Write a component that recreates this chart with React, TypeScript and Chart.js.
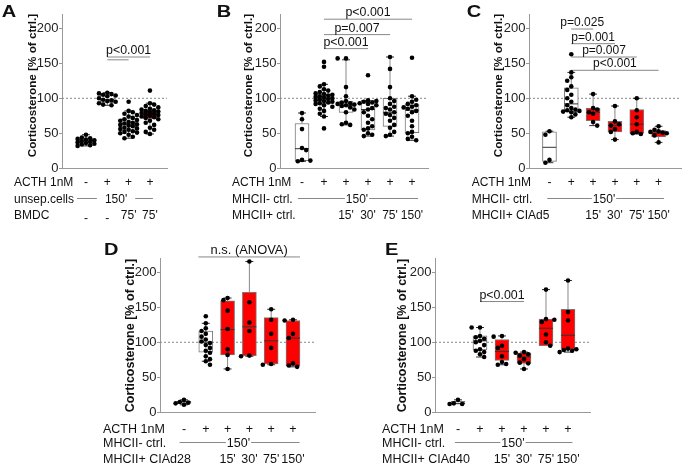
import React, { useEffect, useRef } from 'react';
import { Chart, registerables } from 'chart.js';

Chart.register(...registerables);

const FONT = '"Liberation Sans", Arial, Helvetica, sans-serif';
const RED = '#ff0000';
const Y_MAX = 220;
const Y_TITLE = 'Corticosterone [% of ctrl.]';

// ---------------- Panel A ----------------
const A_VALUES: number[][] = [
  [48, 44, 43, 42, 41, 40, 39, 38, 37, 36, 35, 34, 33, 32],
  [108, 107, 106, 105, 104, 103, 100, 98, 97, 96, 95, 93, 91, 90],
  [95, 82, 80, 78, 76, 74, 72, 70, 69, 68, 66, 65, 64, 63, 62, 61, 60, 58, 57, 56, 55, 53, 52, 51, 50, 48, 45, 43],
  [111, 93, 91, 89, 87, 85, 84, 83, 82, 81, 80, 79, 78, 77, 76, 75, 74, 73, 72, 70, 68, 65, 62, 58, 55, 52, 49],
];
const A_BOXES: number[][] = [
  [32, 36, 39, 42, 48],
  [90, 94, 98, 105, 108],
  [43, 54, 63, 71, 82],
  [49, 71, 77, 83, 93],
];
const A_RED = [false, false, false, true];
const A_ROW_LABELS = ['ACTH 1nM', 'unsep.cells', 'BMDC'];
const A_ACTH = ['-', '+', '+', '+'];
const A_ROW3 = ['-', '-', "75'", "75'"];
const A_SIG_LINES: number[][] = [[1, 3, 159], [1, 2, 155]];
const A_SIG_TEXT = ['p<0.001', ''];

// ---------------- Panel B ----------------
const B_VALUES: number[][] = [
  [79, 70, 56, 29, 26, 12, 11, 10],
  [152, 145, 120, 117, 113, 111, 109, 107, 106, 105, 104, 103, 102, 101, 100, 99, 98, 97, 96, 95, 94, 93, 92, 90, 88, 85, 82, 78, 74, 57],
  [157, 157, 116, 103, 96, 94, 93, 92, 91, 90, 89, 87, 84, 80, 65, 63, 62],
  [133, 97, 96, 95, 94, 93, 92, 90, 86, 84, 80, 75, 70, 65, 60, 57, 55, 50, 48, 46],
  [159, 142, 116, 100, 96, 92, 88, 86, 84, 80, 78, 76, 72, 68, 62, 58, 52, 48, 46],
  [158, 103, 98, 95, 92, 90, 88, 87, 85, 82, 80, 75, 68, 60, 52, 50, 45, 42, 40],
];
const B_BOXES: number[][] = [
  [10, 11, 28, 64, 79],
  [74, 92, 100, 106, 120],
  [62, 80, 90, 96, 155],
  [46, 55, 84, 97, 97],
  [46, 60, 80, 100, 159],
  [40, 51, 83, 92, 103],
];
const B_RED = [false, false, false, false, false, false];
const B_ROW_LABELS = ['ACTH 1nM', 'MHCII- ctrl.', 'MHCII+ ctrl.'];
const B_ACTH = ['-', '+', '+', '+', '+', '+'];
const B_ROW3 = ['', '', "15'", "30'", "75'", "150'"];
const B_SIG_LINES: number[][] = [[1, 5, 213], [1, 4, 191], [1, 3, 171]];
const B_SIG_TEXT = ['p<0.001', 'p=0.007', 'p<0.001'];

// ---------------- Panel C ----------------
const C_VALUES: number[][] = [
  [53, 48, 12, 8],
  [163, 137, 130, 125, 117, 112, 105, 100, 95, 90, 86, 84, 83, 82, 81, 80, 77, 73],
  [106, 86, 84, 80, 78, 66, 61],
  [89, 67, 63, 61, 56, 52, 41],
  [100, 83, 73, 63, 52, 50, 49],
  [60, 55, 53, 52, 51, 50, 47, 37],
];
const C_BOXES: number[][] = [
  [8, 10, 30, 52, 53],
  [73, 81, 92, 115, 137],
  [61, 68, 80, 86, 106],
  [41, 52, 61, 67, 89],
  [49, 50, 63, 84, 100],
  [37, 45, 50, 54, 60],
];
const C_RED = [false, false, true, true, true, true];
const C_ROW_LABELS = ['ACTH 1nM', 'MHCII- ctrl.', 'MHCII+ CIAd5'];
const C_ACTH = ['-', '+', '+', '+', '+', '+'];
const C_ROW3 = ['', '', "15'", "30'", "75'", "150'"];
const C_SIG_LINES: number[][] = [[1, 2, 199], [1, 3, 178], [1, 4, 159], [1, 5, 140]];
const C_SIG_TEXT = ['p=0.025', 'p=0.001', 'p=0.007', 'p<0.001'];

// ---------------- Panel D ----------------
const D_VALUES: number[][] = [
  [18, 15, 14, 13, 11],
  [137, 127, 120, 116, 112, 108, 104, 101, 99, 96, 92, 88, 85, 80, 76, 73, 68],
  [163, 160, 145, 119, 90, 82, 62],
  [215, 157, 128, 116, 81, 80],
  [147, 132, 112, 92, 69, 68],
  [132, 131, 112, 106, 70, 67, 65],
];
const D_BOXES: number[][] = [
  [11, 13, 15, 16, 18],
  [73, 86, 100, 116, 127],
  [62, 82, 118, 159, 163],
  [80, 81, 122, 171, 215],
  [68, 69, 102, 135, 147],
  [65, 66, 106, 131, 132],
];
const D_RED = [false, false, true, true, true, true];
const D_ROW_LABELS = ['ACTH 1nM', 'MHCII- ctrl.', 'MHCII+ CIAd28'];
const D_ACTH = ['-', '+', '+', '+', '+', '+'];
const D_ROW3 = ['', '', "15'", "30'", "75'", "150'"];
const D_SIG_LINES: number[][] = [[0.66, 5.32, 221.5]];
const D_SIG_TEXT = ['n.s. (ANOVA)'];

// ---------------- Panel E ----------------
const E_VALUES: number[][] = [
  [18, 13, 12, 12],
  [121, 121, 109, 107, 105, 102, 100, 96, 90, 88, 86, 83, 79],
  [109, 108, 95, 92, 80, 72, 69, 68],
  [86, 85, 83, 81, 76, 71, 70, 62],
  [175, 133, 132, 129, 111, 100, 95],
  [188, 143, 131, 91, 90, 89, 88, 86],
];
const E_BOXES: number[][] = [
  [12, 12, 13, 16, 18],
  [79, 89, 102, 109, 121],
  [68, 74, 87, 104, 109],
  [62, 70, 79, 85, 86],
  [95, 95, 120, 133, 175],
  [86, 90, 110, 147, 188],
];
const E_RED = [false, false, true, true, true, true];
const E_ROW_LABELS = ['ACTH 1nM', 'MHCII- ctrl.', 'MHCII+ CIAd40'];
const E_ACTH = ['-', '+', '+', '+', '+', '+'];
const E_ROW3 = ['', '', "15'", "30'", "75'", "150'"];
const E_SIG_LINES: number[][] = [[1, 3, 158]];
const E_SIG_TEXT = ['p<0.001'];

const SPAN_TEXT = "150'";

type Panel = {
  letter: string;
  values: number[][];
  boxes: number[][];
  red: boolean[];
  rowLabels: string[];
  acth: string[];
  row3: string[];
  sigLines: number[][];
  sigText: string[];
  canvas: { left: number; top: number; width: number; height: number };
  area: { l: number; r: number; t: number; b: number };
  xMin: number;
  xMax: number;
  letterPos: [number, number];
  title: [number, number, number];
  rowX: number;
  rowY: number[];
  rowSize: number;
  span: [number, number, number, number];
  tickSize: number;
  sigSize: number;
  lowDash: boolean;
};

const TOP_ROWS = [181.7, 198.3, 214.7];
const BOT_ROWS = [428.3, 442.3, 458.3];

const PANELS: Panel[] = [
  {
    letter: 'A', values: A_VALUES, boxes: A_BOXES, red: A_RED, rowLabels: A_ROW_LABELS, acth: A_ACTH, row3: A_ROW3,
    sigLines: A_SIG_LINES, sigText: A_SIG_TEXT,
    canvas: { left: 0, top: 0, width: 214, height: 230 },
    area: { l: 62, r: 167, t: 14.3, b: 168.3 }, xMin: -1.125, xMax: 3.8,
    letterPos: [1.7, 16.7], title: [33, 85.5, 11.7], rowX: 14, rowY: TOP_ROWS, rowSize: 12,
    span: [-0.42, 1.41, 3.14, 8], tickSize: 13, sigSize: 12.4, lowDash: true,
  },
  {
    letter: 'B', values: B_VALUES, boxes: B_BOXES, red: B_RED, rowLabels: B_ROW_LABELS, acth: B_ACTH, row3: B_ROW3,
    sigLines: B_SIG_LINES, sigText: B_SIG_TEXT,
    canvas: { left: 214, top: 0, width: 241, height: 230 },
    area: { l: 280, r: 428, t: 14.3, b: 168.3 }, xMin: -1.0, xMax: 5.727,
    letterPos: [216.7, 16.7], title: [248.6, 85.5, 11.7], rowX: 232, rowY: TOP_ROWS, rowSize: 12,
    span: [-0.18, 2.5, 5.27, 1], tickSize: 13, sigSize: 12.4, lowDash: false,
  },
  {
    letter: 'C', values: C_VALUES, boxes: C_BOXES, red: C_RED, rowLabels: C_ROW_LABELS, acth: C_ACTH, row3: C_ROW3,
    sigLines: C_SIG_LINES, sigText: C_SIG_TEXT,
    canvas: { left: 455, top: 0, width: 230, height: 230 },
    area: { l: 529, r: 685, t: 14.3, b: 168.3 }, xMin: -0.9375, xMax: 6.027,
    letterPos: [466.7, 16.7], title: [498.3, 85.5, 11.7], rowX: 471.7, rowY: TOP_ROWS, rowSize: 12,
    span: [-0.1, 2.5, 5.25, 1], tickSize: 13, sigSize: 12, lowDash: false,
  },
  {
    letter: 'D', values: D_VALUES, boxes: D_BOXES, red: D_RED, rowLabels: D_ROW_LABELS, acth: D_ACTH, row3: D_ROW3,
    sigLines: D_SIG_LINES, sigText: D_SIG_TEXT,
    canvas: { left: 98, top: 230, width: 242, height: 236 },
    area: { l: 160, r: 315, t: 258, b: 412.5 }, xMin: -1.1, xMax: 6.01,
    letterPos: [104, 255], title: [130.5, 335.5, 12.5], rowX: 103, rowY: BOT_ROWS, rowSize: 12.5,
    span: [-0.2, 2.5, 5.3, 1], tickSize: 13, sigSize: 12.9, lowDash: false,
  },
  {
    letter: 'E', values: E_VALUES, boxes: E_BOXES, red: E_RED, rowLabels: E_ROW_LABELS, acth: E_ACTH, row3: E_ROW3,
    sigLines: E_SIG_LINES, sigText: E_SIG_TEXT,
    canvas: { left: 376, top: 230, width: 224, height: 236 },
    area: { l: 435, r: 590, t: 258, b: 412.5 }, xMin: -1.045, xMax: 6.0,
    letterPos: [385, 255], title: [403, 335.5, 12.5], rowX: 382, rowY: BOT_ROWS, rowSize: 12.5,
    span: [-0.14, 2.5, 5.2, 1], tickSize: 13, sigSize: 12.4, lowDash: false,
  },
];

const Y_AXIS_W = 30;
const DOT_R = 2.3;

// simple beeswarm layout of the dots of one group (x offsets only)
function swarm(vals: number[], center: number, pxX: number, pxY: number) {
  const D = DOT_R * 2 - 0.2;
  const order = [...vals].sort((a, b) => b - a);
  const placed: { dx: number; v: number }[] = [];
  const res: { x: number; y: number }[] = [];
  order.forEach((v, idx) => {
    const cands = idx % 2 === 0 ? [0, 1, -1, 2, -2] : [0, -1, 1, -2, 2];
    let best = 0;
    let bestOv = Infinity;
    for (const c of cands) {
      const dx = c * D * 0.95;
      let ov = 0;
      for (const p of placed) {
        const dist = Math.hypot(p.dx - dx, (p.v - v) * pxY);
        if (dist < D) ov += D - dist;
      }
      if (ov < bestOv - 1e-9) {
        bestOv = ov;
        best = dx;
      }
      if (ov === 0) break;
    }
    placed.push({ dx: best, v });
    res.push({ x: center + best / pxX, y: v });
  });
  return res;
}

function segData(segs: number[][]) {
  const out: { x: number; y: number }[] = [];
  segs.forEach(([x1, y1, x2, y2]) => {
    out.push({ x: x1, y: y1 }, { x: x2, y: y2 }, { x: NaN, y: NaN });
  });
  return out;
}

function textPlugin(p: Panel) {
  return {
    id: 'panelText' + p.letter,
    afterDraw(chart: any) {
      const ctx: CanvasRenderingContext2D = chart.ctx;
      const xs = chart.scales.x;
      const ys = chart.scales.y;
      const ox = p.canvas.left;
      const oy = p.canvas.top;
      ctx.save();
      ctx.fillStyle = '#111';
      // panel letter
      ctx.save();
      ctx.translate(p.letterPos[0] - ox, p.letterPos[1] - oy);
      ctx.scale(1.25, 1);
      ctx.font = `bold 16px ${FONT}`;
      ctx.textAlign = 'left';
      ctx.textBaseline = 'alphabetic';
      ctx.fillText(p.letter, 0, 0);
      ctx.restore();
      // y title
      ctx.save();
      ctx.translate(p.title[0] - ox, p.title[1] - oy);
      ctx.rotate(-Math.PI / 2);
      ctx.font = `bold ${p.title[2]}px ${FONT}`;
      ctx.textAlign = 'center';
      ctx.textBaseline = 'middle';
      ctx.fillText(Y_TITLE, 0, 0);
      ctx.restore();
      // significance texts
      ctx.font = `${p.sigSize}px ${FONT}`;
      ctx.textAlign = 'center';
      ctx.textBaseline = 'alphabetic';
      p.sigLines.forEach(([a, b, y], i) => {
        const t = p.sigText[i];
        if (!t) return;
        const cx = (xs.getPixelForValue(a) + xs.getPixelForValue(b)) / 2;
        ctx.fillText(t, cx, ys.getPixelForValue(y) - 3);
      });
      // rows below the axis
      const half = p.rowSize * 0.358;
      ctx.font = `${p.rowSize}px ${FONT}`;
      p.rowLabels.forEach((lab, r) => {
        ctx.textAlign = 'left';
        ctx.fillText(lab, p.rowX - ox, p.rowY[r] - oy + half);
      });
      ctx.textAlign = 'center';
      p.acth.forEach((m, i) => {
        ctx.fillText(m, xs.getPixelForValue(i), p.rowY[0] - oy + half);
      });
      p.row3.forEach((m, i) => {
        if (!m) return;
        const low = p.lowDash && m === '-' ? 3.5 : 0;
        ctx.fillText(m, xs.getPixelForValue(i), p.rowY[2] - oy + half + low);
      });
      // 150' span with lines
      const [lL, tc, lR, gap] = p.span;
      const cx = xs.getPixelForValue(tc);
      const tw = ctx.measureText(SPAN_TEXT).width;
      const yRow = p.rowY[1] - oy;
      ctx.fillText(SPAN_TEXT, cx, yRow + half);
      ctx.strokeStyle = '#888';
      ctx.lineWidth = 1;
      ctx.beginPath();
      const ly = Math.round(yRow - 0.5) + 0.5;
      ctx.moveTo(xs.getPixelForValue(lL), ly);
      ctx.lineTo(cx - tw / 2 - gap, ly);
      ctx.moveTo(cx + tw / 2 + gap, ly);
      ctx.lineTo(xs.getPixelForValue(lR), ly);
      ctx.stroke();
      ctx.restore();
    },
  };
}

function buildConfig(p: Panel): any {
  const spacing = (p.area.r - p.area.l) / (p.xMax - p.xMin);
  const k = (p.area.b - p.area.t) / Y_MAX;
  const pts = p.values.flatMap((vals, i) => swarm(vals, i, spacing, k));
  const hw = 7 / spacing;
  const cw = 4 / spacing;
  const medSegs: number[][] = [];
  const capSegs: number[][] = [];
  const whiskSegs: number[][] = [];
  p.boxes.forEach(([mn, q1, md, q3, mx], i) => {
    medSegs.push([i - hw, md, i + hw, md]);
    if (mx > q3) {
      whiskSegs.push([i, q3, i, mx]);
      capSegs.push([i - cw, mx, i + cw, mx]);
    }
    if (mn < q1) {
      whiskSegs.push([i, mn, i, q1]);
      capSegs.push([i - cw, mn, i + cw, mn]);
    }
  });
  const sigSegs = p.sigLines.map(([a, b, y]) => [a, y, b, y]);
  const lineBase = {
    type: 'line',
    pointRadius: 0,
    borderWidth: 1,
    spanGaps: false,
    tension: 0,
    fill: false,
  };
  return {
    type: 'scatter',
    data: {
      datasets: [
        {
          type: 'scatter',
          data: pts,
          pointRadius: DOT_R,
          pointBackgroundColor: '#000',
          pointBorderColor: '#000',
          pointBorderWidth: 0,
          order: 0,
        },
        { ...lineBase, data: segData(sigSegs), borderColor: '#888', clip: false, order: 0 },
        { ...lineBase, data: segData(medSegs), borderColor: '#333', order: 1 },
        { ...lineBase, data: segData(capSegs), borderColor: '#333', order: 1 },
        { ...lineBase, data: segData(whiskSegs), borderColor: '#888', order: 2 },
        {
          type: 'bar',
          data: p.boxes.map((b, i) => ({ x: i, y: [b[1], b[3]] })),
          backgroundColor: p.red.map((r) => (r ? RED : '#ffffff')),
          borderColor: '#777',
          borderWidth: 1,
          borderSkipped: false,
          barThickness: 14,
          grouped: false,
          order: 3,
        },
        {
          ...lineBase,
          data: [
            { x: p.xMin, y: 100 },
            { x: p.xMax, y: 100 },
          ],
          borderColor: '#888',
          borderDash: [2, 2],
          order: 4,
        },
      ],
    },
    options: {
      responsive: false,
      maintainAspectRatio: false,
      animation: false,
      devicePixelRatio: 1,
      events: [],
      layout: {
        padding: {
          left: p.area.l - p.canvas.left - Y_AXIS_W,
          right: p.canvas.left + p.canvas.width - p.area.r,
          top: p.area.t - p.canvas.top,
          bottom: p.canvas.top + p.canvas.height - p.area.b,
        },
      },
      plugins: { legend: { display: false }, tooltip: { enabled: false }, title: { display: false } },
      scales: {
        x: {
          type: 'linear',
          min: p.xMin,
          max: p.xMax,
          offset: false,
          grid: { display: true, drawOnChartArea: false, drawTicks: false, color: '#999', offset: false },
          ticks: { display: false },
          border: { display: true, color: '#999', width: 1 },
          afterFit: (s: any) => {
            s.height = 0;
          },
        },
        y: {
          type: 'linear',
          min: 0,
          max: Y_MAX,
          grid: { display: true, drawOnChartArea: false, drawTicks: true, tickLength: 3, color: '#999' },
          border: { display: true, color: '#999', width: 1 },
          ticks: {
            stepSize: 50,
            includeBounds: false,
            padding: 0.5,
            color: '#222',
            font: { family: FONT, size: p.tickSize },
          },
          afterFit: (s: any) => {
            s.width = Y_AXIS_W;
          },
        },
      },
    },
    plugins: [textPlugin(p)],
  };
}

function PanelChart({ p }: { p: Panel }) {
  const ref = useRef<HTMLCanvasElement>(null);
  useEffect(() => {
    if (!ref.current) return;
    const chart = new Chart(ref.current, buildConfig(p));
    return () => chart.destroy();
  }, [p]);
  return (
    <canvas
      ref={ref}
      width={p.canvas.width}
      height={p.canvas.height}
      style={{
        position: 'absolute',
        left: p.canvas.left,
        top: p.canvas.top,
        width: p.canvas.width,
        height: p.canvas.height,
      }}
    />
  );
}

export default function App() {
  useEffect(() => {
    document.body.style.margin = '0';
  }, []);
  return (
    <div style={{ position: 'fixed', left: 0, top: 0, width: 685, height: 466, background: '#fff', overflow: 'hidden' }}>
      {PANELS.map((p) => (
        <PanelChart key={p.letter} p={p} />
      ))}
    </div>
  );
}
